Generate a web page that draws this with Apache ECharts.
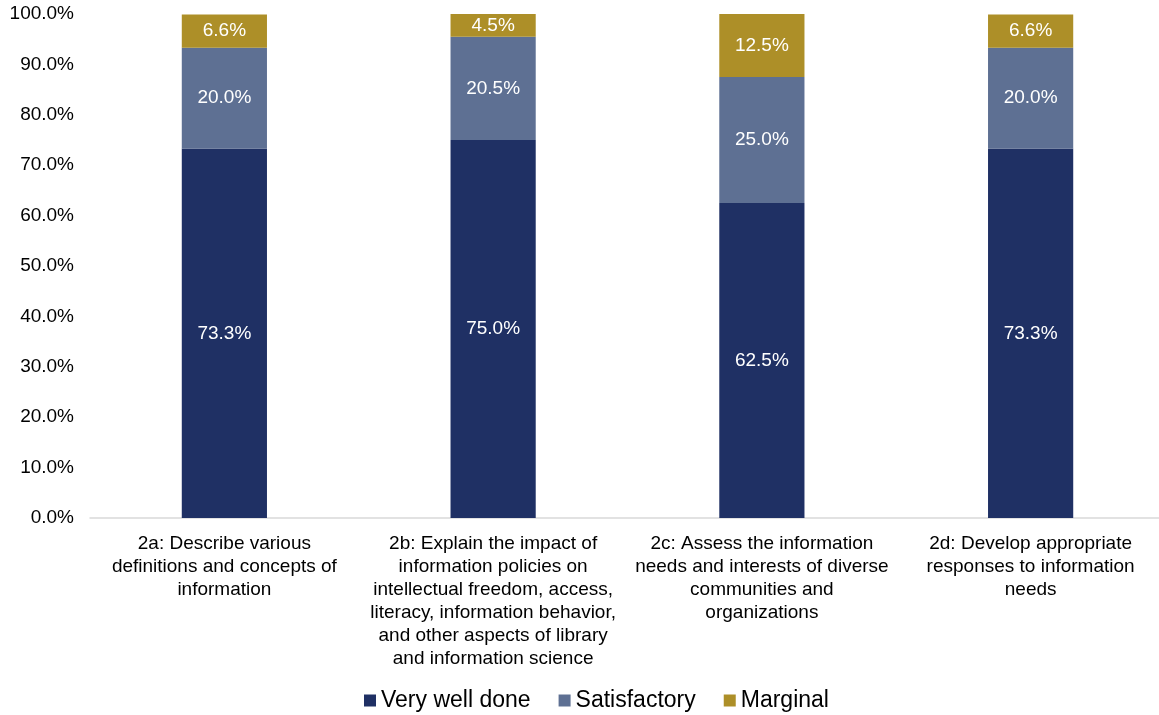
<!DOCTYPE html>
<html>
<head>
<meta charset="utf-8">
<script src="https://cdn.jsdelivr.net/npm/echarts@6/dist/echarts.min.js"></script>
<style>
  html, body { margin: 0; padding: 0; background: #fff; }
  #chart { width: 1159px; height: 715px; }
</style>
</head>
<body>
<div id="chart"></div>
<script>
// Categories (manually wrapped like the original)
const categories = [
    '2a: Describe various\ndefinitions and concepts of\ninformation',
    '2b: Explain the impact of\ninformation policies on\nintellectual freedom, access,\nliteracy, information behavior,\nand other aspects of library\nand information science',
    '2c: Assess the information\nneeds and interests of diverse\ncommunities and\norganizations',
    '2d: Develop appropriate\nresponses to information\nneeds'
];

const veryWellDone = [73.3, 75.0, 62.5, 73.3];
const satisfactory = [20.0, 20.5, 25.0, 20.0];
const marginal = [6.6, 4.5, 12.5, 6.6];

const font = 'Liberation Sans, Arial, sans-serif';

const chart = echarts.init(document.getElementById('chart'));

const barLabel = {
    show: true,
    position: 'inside',
    color: '#fff',
    fontFamily: font,
    fontSize: 19,
    formatter: p => p.value.toFixed(1) + '%'
};

function makeSeries(name, data, color) {
    return {
        name: name,
        type: 'bar',
        stack: 'total',
        barWidth: '31.7%',
        data: data,
        itemStyle: { color: color },
        label: barLabel,
        emphasis: { disabled: true }
    };
}

chart.setOption({
    animation: false,
    grid: { left: 90, width: 1075, top: 14, height: 504, outerBoundsMode: 'none' },
    legend: {
        top: 684,
        left: 359,
        itemWidth: 12,
        itemHeight: 12,
        itemGap: 28,
        icon: 'rect',
        textStyle: { fontFamily: font, fontSize: 23, color: '#000' },
        data: ['Very well done', 'Satisfactory', 'Marginal']
    },
    xAxis: {
        type: 'category',
        data: categories,
        axisLine: { lineStyle: { color: '#d9d9d9', width: 1.5 } },
        axisTick: { show: false },
        axisLabel: {
            interval: 0,
            margin: 14,
            fontFamily: font,
            fontSize: 19,
            lineHeight: 23,
            color: '#000'
        }
    },
    yAxis: {
        type: 'value',
        min: 0,
        max: 100,
        interval: 10,
        splitLine: { show: false },
        axisLine: { show: false },
        axisTick: { show: false },
        axisLabel: {
            margin: 16,
            fontFamily: font,
            fontSize: 19,
            color: '#000',
            formatter: v => v.toFixed(1) + '%'
        }
    },
    series: [
        makeSeries('Very well done', veryWellDone, '#1f3064'),
        makeSeries('Satisfactory', satisfactory, '#5e7093'),
        makeSeries('Marginal', marginal, '#ad8f28')
    ]
});

window.addEventListener('resize', () => chart.resize());
</script>
</body>
</html>
